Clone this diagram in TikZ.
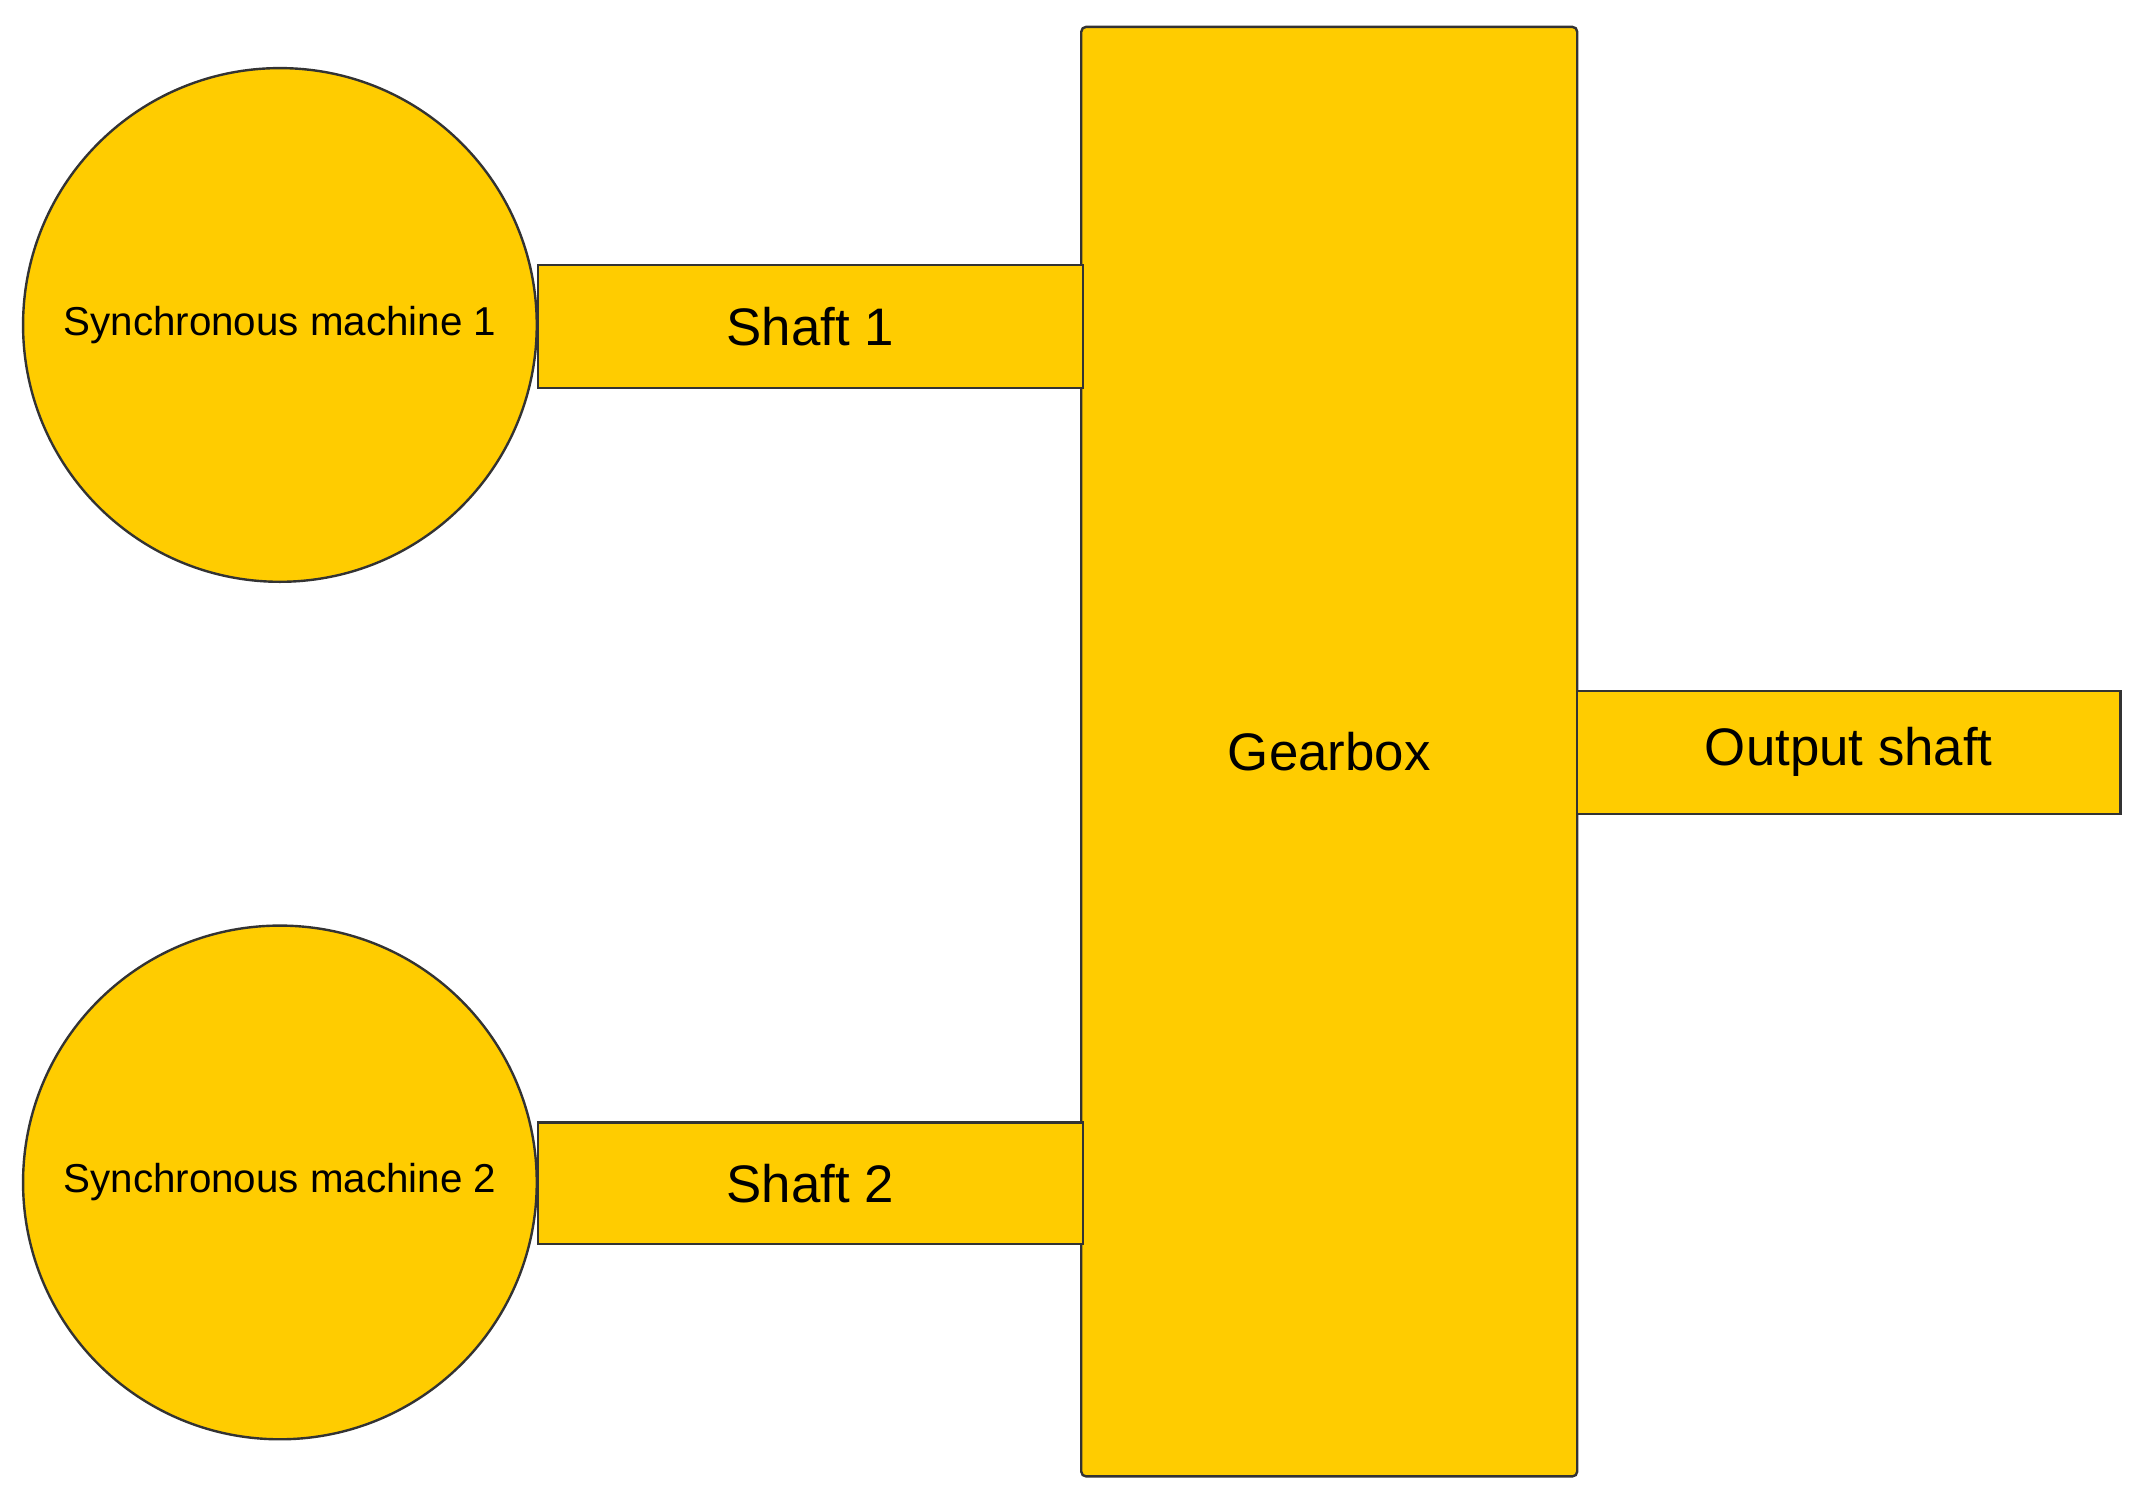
\documentclass[tikz,border=0pt]{standalone}
\usepackage{fontspec}
\setmainfont{Liberation Sans}
\definecolor{gold}{HTML}{FFCC00}
\begin{document}
\begin{tikzpicture}[x=0.01cm,y=-0.01cm,
  part/.style={draw=black!80,fill=gold,line width=0.5pt,inner sep=0pt},
  big/.style={font=\fontsize{11pt}{13pt}\selectfont},
  small/.style={font=\fontsize{8.4pt}{10pt}\selectfont}]
\useasboundingbox (0,0) rectangle (1568,1098);
\node[part,circle,minimum size=3.76cm,small] (m1) at (205,238) {Synchronous machine 1};
\node[part,circle,minimum size=3.76cm,small] (m2) at (205,866) {Synchronous machine 2};
\node[part,rounded corners=1pt,minimum width=3.63cm,minimum height=10.61cm,big] (gb) at (973.5,550.5) {Gearbox};
\node[part,minimum width=3.99cm,minimum height=0.90cm,big] (s1) at (593.5,239) {Shaft 1};
\node[part,minimum width=3.99cm,minimum height=0.89cm,big] (s2) at (593.5,866.5) {Shaft 2};
\node[part,minimum width=3.98cm,minimum height=0.90cm,big] (os) at (1354,551) {Output shaft};
\end{tikzpicture}
\end{document}
